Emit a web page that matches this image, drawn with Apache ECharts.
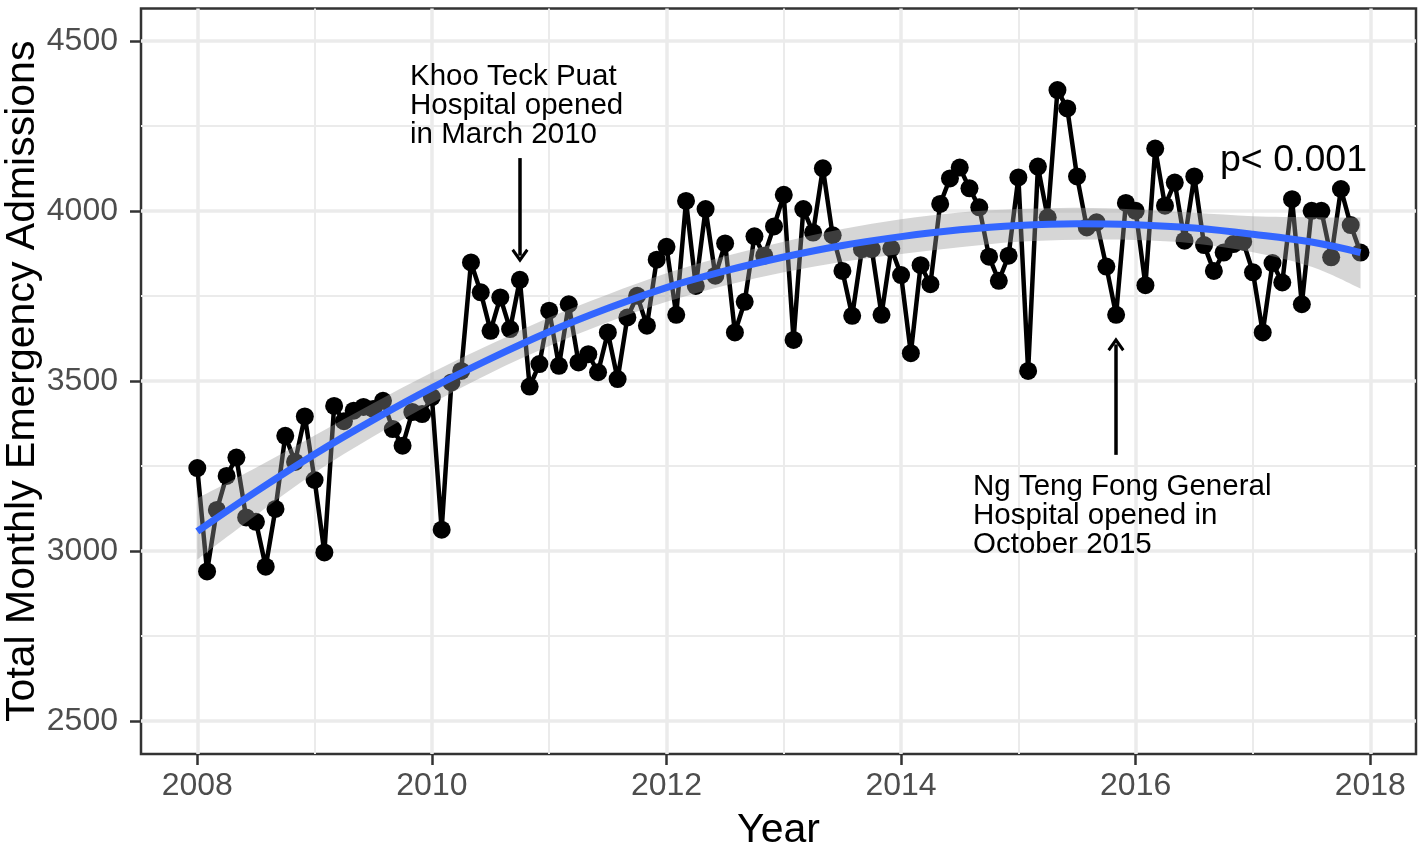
<!DOCTYPE html>
<html><head><meta charset="utf-8">
<script src="https://cdn.jsdelivr.net/npm/echarts@6/dist/echarts.min.js"></script>
<style>html,body{margin:0;padding:0;background:#fff}#chart{width:1424px;height:844px}</style>
</head><body><div id="chart"></div>
<script>
// ---- data ----
const startYear = 2008;
const admissions = [
  3244, 2940, 3121, 3221, 3275, 3099, 3086, 2954, 3124, 3339, 3262, 3396,
  3209, 2996, 3427, 3382, 3413, 3424, 3418, 3442, 3359, 3310, 3409, 3403,
  3453, 3063, 3496, 3530, 3849, 3761, 3648, 3746, 3653, 3798, 3484, 3550,
  3707, 3545, 3726, 3555, 3579, 3526, 3643, 3506, 3687, 3751, 3663, 3857,
  3895, 3695, 4030, 3780, 4006, 3810, 3905, 3643, 3733, 3926, 3869, 3955,
  4048, 3621, 4006, 3937, 4126, 3929, 3824, 3692, 3888, 3888, 3695, 3890,
  3812, 3582, 3841, 3785, 4021, 4096, 4128, 4067, 4011, 3866, 3795, 3869,
  4099, 3530, 4131, 3981, 4356, 4302, 4102, 3952, 3967, 3837, 3695, 4024,
  4001, 3782, 4184, 4016, 4084, 3913, 4102, 3900, 3824, 3878, 3903, 3910,
  3820, 3643, 3847, 3790, 4035, 3726, 4001, 4001, 3864, 4065, 3959, 3878
];
const fitYears  = [2008, 2008.5, 2009, 2009.5, 2010, 2010.5, 2011, 2011.5, 2012, 2012.5, 2013, 2013.5, 2014, 2014.5, 2015, 2015.5, 2016, 2016.5, 2017, 2017.5, 2017.917];
const fitValues = [3058, 3175, 3285, 3386, 3480, 3566, 3645, 3714, 3775, 3824, 3865, 3899, 3925, 3945, 3958, 3963, 3960, 3950, 3932, 3909, 3878];
const ciUpper   = [3155, 3245, 3340, 3435, 3525, 3608, 3687, 3755, 3817, 3867, 3910, 3947, 3976, 3996, 4006, 4010, 4005, 3995, 3985, 3982, 3981];
const ciLower   = [2975, 3105, 3230, 3337, 3435, 3524, 3603, 3673, 3733, 3781, 3820, 3851, 3874, 3894, 3910, 3916, 3915, 3905, 3879, 3836, 3772];
const xTicks = [2008, 2010, 2012, 2014, 2016, 2018];
const xMinorTicks = [2009, 2011, 2013, 2015, 2017];
const yTicks = [2500, 3000, 3500, 4000, 4500];
const yMinorTicks = [2750, 3250, 3750, 4250];
const annotationKhoo = 'Khoo Teck Puat\nHospital opened\nin March 2010';
const annotationNg = 'Ng Teng Fong General\nHospital opened in\nOctober 2015';
const pText = 'p< 0.001';
const arrowKhoo = {x: 2010.751, from: 4156, to: 3869};
const arrowNg = {x: 2015.832, from: 3283, to: 3608};

// ---- chart ----
const FONT = '"Liberation Sans", Arial, Helvetica, sans-serif';
const points = admissions.map((v, i) => [startYear + i / 12, v]);
const fitLine = fitYears.map((x, i) => [x, fitValues[i]]);

const gridLines = [];
xTicks.forEach(v => gridLines.push({xAxis: v, lineStyle: {color: '#ebebeb', width: 3.5, type: 'solid'}}));
xMinorTicks.forEach(v => gridLines.push({xAxis: v, lineStyle: {color: '#ebebeb', width: 2, type: 'solid'}}));
yTicks.forEach(v => gridLines.push({yAxis: v, lineStyle: {color: '#ebebeb', width: 3.5, type: 'solid'}}));
yMinorTicks.forEach(v => gridLines.push({yAxis: v, lineStyle: {color: '#ebebeb', width: 2, type: 'solid'}}));

const chevron = 'path://M0,0 L9,12 L6.5,14 L0,5.5 L-6.5,14 L-9,12 Z';

function catmull(pts, first) {
  let d = (first ? 'M' : 'L') + pts[0][0] + ',' + pts[0][1];
  for (let i = 0; i < pts.length - 1; i++) {
    const p0 = pts[i - 1] || pts[i], p1 = pts[i], p2 = pts[i + 1], p3 = pts[i + 2] || pts[i + 1];
    const c1 = [p1[0] + (p2[0] - p0[0]) / 6, p1[1] + (p2[1] - p0[1]) / 6];
    const c2 = [p2[0] - (p3[0] - p1[0]) / 6, p2[1] - (p3[1] - p1[1]) / 6];
    d += ' C' + c1[0] + ',' + c1[1] + ' ' + c2[0] + ',' + c2[1] + ' ' + p2[0] + ',' + p2[1];
  }
  return d;
}
const plain = v => String(Math.round(v));

const chart = echarts.init(document.getElementById('chart'), null, {renderer: 'canvas'});
chart.setOption({
  animation: false,
  backgroundColor: '#fff',
  textStyle: {fontFamily: FONT},
  grid: {left: 141, right: 8, top: 8.5, bottom: 90, containLabel: false, outerBoundsMode: 'none',
         show: true, borderColor: '#333333', borderWidth: 2.5, backgroundColor: 'transparent'},
  xAxis: {
    type: 'value', min: 2007.52, max: 2018.39,
    name: 'Year', nameLocation: 'middle', nameGap: 56, nameMoveOverlap: false,
    nameTextStyle: {fontSize: 41, color: '#000', fontFamily: FONT},
    axisLine: {show: false},
    splitLine: {show: false},
    axisTick: {show: true, length: 11, customValues: xTicks, lineStyle: {color: '#333333', width: 2.5}},
    axisLabel: {customValues: xTicks, formatter: plain, fontSize: 32, color: '#4d4d4d', margin: 16, fontFamily: FONT}
  },
  yAxis: {
    type: 'value', min: 2403, max: 4596,
    name: 'Total Monthly Emergency Admissions', nameLocation: 'middle', nameGap: 98, nameMoveOverlap: false,
    nameTextStyle: {fontSize: 41, color: '#000', fontFamily: FONT},
    axisLine: {show: false},
    splitLine: {show: false},
    axisTick: {show: true, length: 11, customValues: yTicks, lineStyle: {color: '#333333', width: 2.5}},
    axisLabel: {customValues: yTicks, formatter: plain, fontSize: 32, color: '#4d4d4d', margin: 23, fontFamily: FONT}
  },
  series: [
    {
      type: 'line', data: points, z: 2,
      symbol: 'circle', symbolSize: 18,
      itemStyle: {color: '#000'},
      lineStyle: {color: '#000', width: 4.5},
      markLine: {z: 1, silent: true, symbol: ['none', 'none'], label: {show: false}, animation: false, data: gridLines}
    },
    {
      type: 'custom', z: 3, silent: true,
      data: [[2012, 3800]],
      encode: {x: 0, y: 1},
      renderItem: function (params, api) {
        const up = fitYears.map((x, i) => api.coord([x, ciUpper[i]]));
        const lo = fitYears.map((x, i) => api.coord([x, ciLower[i]])).reverse();
        const d = catmull(up, true) + ' ' + catmull(lo, false) + ' Z';
        return {type: 'path', shape: {pathData: d}, style: {fill: 'rgba(153,153,153,0.4)'}};
      }
    },
    {
      type: 'line', data: fitLine, z: 4, smooth: 0.4,
      symbol: 'none', silent: true,
      lineStyle: {color: '#3366FF', width: 7},
      markLine: {
        z: 6, silent: true, animation: false,
        symbol: ['none', chevron], symbolSize: [17, 14],
        label: {show: false},
        lineStyle: {color: '#000', width: 3.5, type: 'solid'},
        data: [
          [{coord: [arrowKhoo.x, arrowKhoo.from]}, {coord: [arrowKhoo.x, arrowKhoo.to]}],
          [{coord: [arrowNg.x, arrowNg.from]}, {coord: [arrowNg.x, arrowNg.to]}]
        ]
      }
    }
  ],
  graphic: [
    {type: 'text', x: 410, y: 106, z: 10, style: {text: annotationKhoo, fontSize: 29.5, fontFamily: FONT, lineHeight: 29, fill: '#000', align: 'left', verticalAlign: 'middle'}},
    {type: 'text', x: 973, y: 516, z: 10, style: {text: annotationNg, fontSize: 29.5, fontFamily: FONT, lineHeight: 29, fill: '#000', align: 'left', verticalAlign: 'middle'}},
    {type: 'text', x: 1220, y: 161, z: 10, style: {text: pText, fontSize: 37.5, fontFamily: FONT, fill: '#000', align: 'left', verticalAlign: 'middle'}}
  ]
});
</script></body></html>
